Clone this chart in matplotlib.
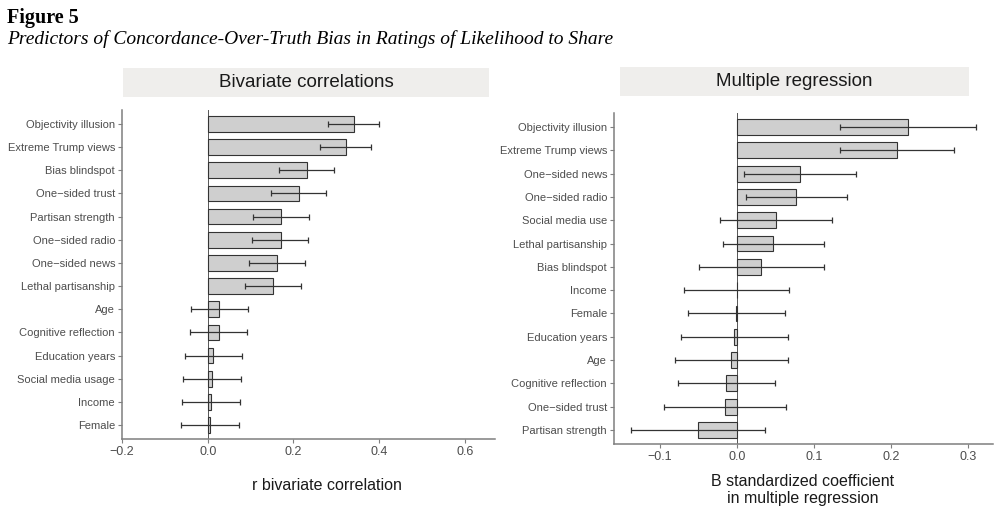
import numpy as np
import matplotlib
matplotlib.use('Agg')
import matplotlib.pyplot as plt
from matplotlib.patches import Rectangle

plt.rcParams['font.family'] = ['Liberation Sans', 'DejaVu Sans']

# --- Données (de haut en bas) ---
biv_labels = ['Objectivity illusion', 'Extreme Trump views', 'Bias blindspot',
              'One\u2212sided trust', 'Partisan strength', 'One\u2212sided radio',
              'One\u2212sided news', 'Lethal partisanship', 'Age',
              'Cognitive reflection', 'Education years', 'Social media usage',
              'Income', 'Female']
biv_r = [0.342, 0.323, 0.232, 0.212, 0.171, 0.170, 0.162, 0.153,
         0.027, 0.026, 0.013, 0.010, 0.008, 0.005]
biv_lo = [0.281, 0.261, 0.167, 0.147, 0.106, 0.104, 0.096, 0.087,
          -0.040, -0.042, -0.054, -0.057, -0.059, -0.063]
biv_hi = [0.399, 0.381, 0.294, 0.275, 0.235, 0.233, 0.226, 0.217,
          0.094, 0.091, 0.081, 0.077, 0.075, 0.072]

reg_labels = ['Objectivity illusion', 'Extreme Trump views', 'One\u2212sided news',
              'One\u2212sided radio', 'Social media use', 'Lethal partisanship',
              'Bias blindspot', 'Income', 'Female', 'Education years', 'Age',
              'Cognitive reflection', 'One\u2212sided trust', 'Partisan strength']
reg_b = [0.222, 0.208, 0.0825, 0.0773, 0.051, 0.0475, 0.032, 0.0002,
         -0.001, -0.0035, -0.007, -0.0134, -0.0155, -0.0505]
reg_lo = [0.134, 0.134, 0.010, 0.012, -0.022, -0.018, -0.049, -0.068,
          -0.063, -0.0725, -0.0795, -0.076, -0.0946, -0.137]
reg_hi = [0.310, 0.281, 0.154, 0.143, 0.1235, 0.113, 0.113, 0.068,
          0.062, 0.0665, 0.066, 0.0497, 0.064, 0.0367]

W, H = 1000, 518
fig = plt.figure(figsize=(W / 100, H / 100), dpi=100)

GRIS_TXT = '#4d4d4d'
GRIS_AXE = '#7f7f7f'


def px_axes(x0, y0, x1, y1):
    # coordonnées en pixels (origine en haut à gauche)
    return fig.add_axes([x0 / W, 1 - y1 / H, (x1 - x0) / W, (y1 - y0) / H])


def panneau(ax, labels, vals, lo, hi, xlim, xticks, ticklabels):
    n = len(labels)
    y = np.arange(n)[::-1]
    vals = np.array(vals)
    err = [vals - np.array(lo), np.array(hi) - vals]
    ax.axvline(0, color='#555555', lw=0.7, zorder=1)
    ax.barh(y, vals, height=0.68, color='#cfcfcf', edgecolor='#333333',
            linewidth=0.8, zorder=2)
    ax.errorbar(vals, y, xerr=err, fmt='none', ecolor='#333333',
                elinewidth=0.9, capsize=2, capthick=0.9, zorder=3)
    ax.set_ylim(-0.6, n - 0.4)
    ax.set_xlim(*xlim)
    ax.set_yticks(y)
    ax.set_yticklabels(labels, fontsize=8, color=GRIS_TXT)
    ax.set_xticks(xticks)
    ax.set_xticklabels(ticklabels, fontsize=9, color=GRIS_TXT)
    for s in ['top', 'right']:
        ax.spines[s].set_visible(False)
    for s in ['left', 'bottom']:
        ax.spines[s].set_color(GRIS_AXE)
        ax.spines[s].set_linewidth(1.1)
    ax.tick_params(axis='both', color=GRIS_AXE, length=3, width=0.8, pad=2)
    ax.set_facecolor('white')


ax1 = px_axes(122, 110, 495, 439)
panneau(ax1, biv_labels, biv_r, biv_lo, biv_hi, (-0.2, 0.67),
        [-0.2, 0.0, 0.2, 0.4, 0.6], ['\u22120.2', '0.0', '0.2', '0.4', '0.6'])

ax2 = px_axes(614, 113, 993, 444)
panneau(ax2, reg_labels, reg_b, reg_lo, reg_hi, (-0.159, 0.332),
        [-0.1, 0.0, 0.1, 0.2, 0.3], ['\u22120.1', '0.0', '0.1', '0.2', '0.3'])

# bandeaux de titre (style strip ggplot)
for x0, x1, y0, y1, txt in [(123, 489, 68, 97, 'Bivariate correlations'),
                            (620, 969, 67, 96, 'Multiple regression')]:
    fig.patches.append(Rectangle((x0 / W, 1 - y1 / H), (x1 - x0) / W, (y1 - y0) / H,
                                 transform=fig.transFigure, facecolor='#efeeec',
                                 edgecolor='none'))
    fig.text((x0 + x1) / 2 / W, 1 - (y0 + y1) / 2 / H, txt, ha='center',
             va='center', fontsize=13.5, color='#1a1a1a')

# titres des axes x
fig.text(327 / W, 1 - 490 / H, 'r bivariate correlation', ha='center',
         va='baseline', fontsize=11.5, color='#1a1a1a')
fig.text(803 / W, 1 - 486.5 / H, 'B standardized coefficient', ha='center',
         va='baseline', fontsize=11.5, color='#1a1a1a')
fig.text(803 / W, 1 - 502.5 / H, 'in multiple regression', ha='center',
         va='baseline', fontsize=11.5, color='#1a1a1a')

# titre de la figure
fig.text(7 / W, 1 - 23 / H, 'Figure 5', ha='left', va='baseline',
         fontsize=14.5, fontweight='bold', family=['Liberation Serif'])
fig.text(7 / W, 1 - 43.5 / H,
         'Predictors of Concordance-Over-Truth Bias in Ratings of Likelihood to Share',
         ha='left', va='baseline', fontsize=14, style='italic',
         family=['Liberation Serif'])

fig.savefig('out.png', dpi=100)
